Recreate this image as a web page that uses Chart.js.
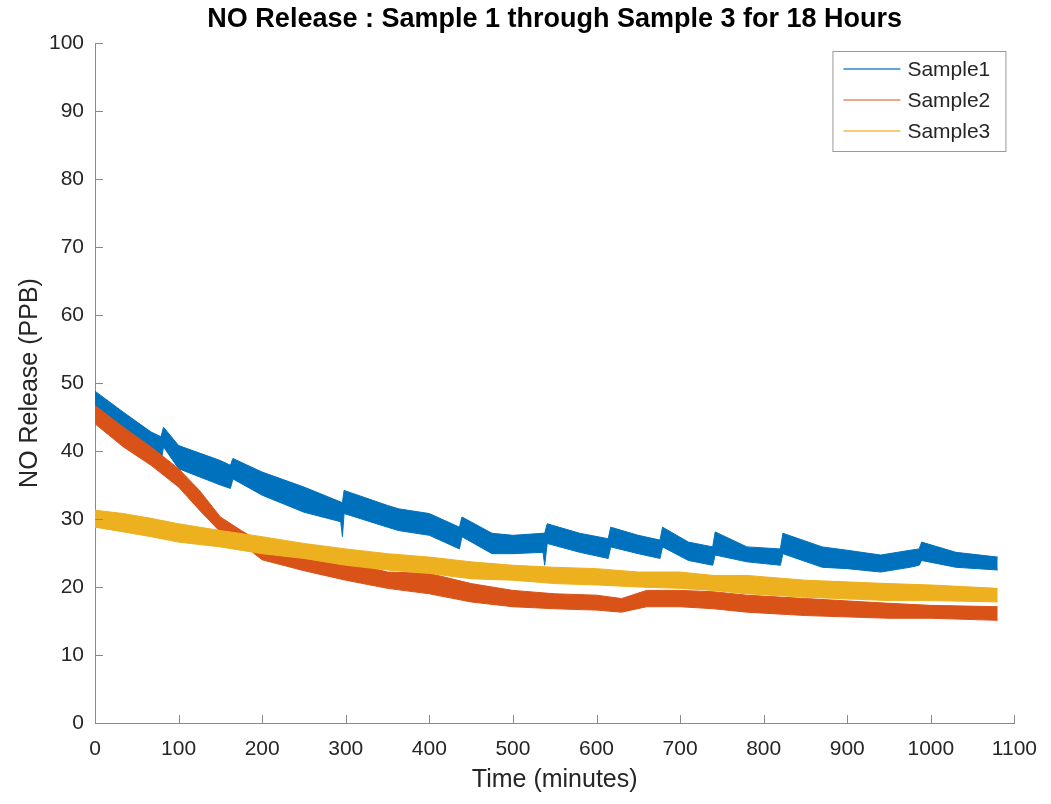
<!DOCTYPE html>
<html>
<head>
<meta charset="utf-8">
<title>NO Release</title>
<script src="https://cdn.jsdelivr.net/npm/chart.js@4.4.1/dist/chart.umd.min.js"></script>
<style>
    html, body { margin: 0; padding: 0; background: #ffffff; }
</style>
</head>
<body>
<canvas class="js-graph" width="1051" height="804"></canvas>
<script>
// values: upper and lower edge of each noisy trace (PPB)
const sample1_x  = [0, 34, 67, 79, 82, 100, 150, 162, 165, 200, 250, 294, 296, 298, 350, 363, 400, 436, 439, 475, 500, 536, 538, 541, 580, 614, 617, 650, 676, 679, 710, 739, 742, 780, 820, 823, 870, 900, 940, 975, 986, 989, 1030, 1080];
const sample1_hi = [48.8, 45.7, 42.8, 42.1, 43.5, 40.8, 38.6, 37.9, 38.9, 36.9, 34.7, 32.5, 32.4, 34.2, 32.0, 31.5, 30.8, 28.8, 30.3, 27.9, 27.6, 27.9, 27.9, 29.3, 27.9, 27.1, 28.8, 27.6, 26.9, 28.8, 26.6, 25.9, 28.1, 25.9, 25.6, 27.9, 25.9, 25.4, 24.7, 25.4, 25.6, 26.6, 25.1, 24.4];
const sample1_lo = [45.5, 42.1, 38.9, 38.4, 40.6, 37.4, 35.0, 34.5, 35.9, 33.5, 31.0, 29.6, 27.4, 30.8, 28.8, 28.3, 27.6, 25.6, 27.4, 24.9, 24.9, 25.1, 23.2, 26.4, 25.1, 24.2, 25.9, 24.9, 24.2, 25.9, 23.9, 23.2, 24.7, 23.7, 23.2, 24.9, 22.9, 22.7, 22.2, 22.9, 23.2, 23.9, 22.9, 22.5];

const sample2_x  = [0, 34, 67, 100, 125, 150, 175, 200, 250, 300, 350, 400, 450, 500, 550, 600, 630, 660, 700, 740, 780, 850, 950, 1000, 1080];
const sample2_hi = [46.7, 43.5, 40.6, 37.4, 34.2, 30.3, 28.3, 26.5, 25.0, 23.7, 22.2, 22.0, 20.5, 19.5, 19.0, 18.8, 18.3, 19.5, 19.5, 19.3, 18.8, 18.3, 17.6, 17.3, 17.1];
const sample2_lo = [44.0, 40.6, 37.9, 34.7, 31.3, 28.1, 26.4, 24.0, 22.4, 21.0, 19.8, 19.0, 17.8, 17.1, 16.8, 16.6, 16.3, 17.1, 17.1, 16.8, 16.3, 15.8, 15.4, 15.4, 15.1];

const sample3_x  = [0, 34, 67, 100, 150, 200, 250, 300, 350, 400, 450, 500, 550, 600, 650, 700, 740, 780, 850, 950, 1000, 1080];
const sample3_hi = [31.3, 30.8, 30.1, 29.3, 28.3, 27.4, 26.4, 25.6, 24.9, 24.4, 23.7, 23.2, 22.9, 22.7, 22.2, 22.2, 21.7, 21.7, 21.0, 20.5, 20.3, 19.8];
const sample3_lo = [28.8, 28.1, 27.4, 26.6, 25.9, 24.9, 24.2, 23.2, 22.5, 22.0, 21.2, 21.0, 20.5, 20.3, 20.0, 19.8, 19.5, 19.0, 18.5, 18.0, 18.0, 17.8];

const series_names = ['Sample1', 'Sample2', 'Sample3'];
const x_ticks = [0, 100, 200, 300, 400, 500, 600, 700, 800, 900, 1000, 1100];
const y_ticks = [0, 10, 20, 30, 40, 50, 60, 70, 80, 90, 100];

const chart_title = 'NO Release : Sample 1 through Sample 3 for 18 Hours';
const x_title = 'Time (minutes)';
const y_title = 'NO Release (PPB)';

{
    const series_colors = ['#0072bd', '#d95319', '#edb120'];
    const legend_colors = ['#2f86cc', '#e88a62', '#f0bc48'];
    const text_color = '#262626';
    const axis_color = '#8a8a8a';
    const font_family = '"Liberation Sans", Arial, Helvetica, sans-serif';

    const to_points = (xs, ys) => xs.map((x, i) => ({ x: x, y: ys[i] }));

    const make_band = (i, xs, hi, lo) => {
        const common = {
            borderColor: series_colors[i],
            backgroundColor: series_colors[i],
            borderWidth: 1,
            pointRadius: 0,
            tension: 0,
            order: 3 - i,
        };
        return [
            { ...common, label: series_names[i], data: to_points(xs, hi), fill: '+1' },
            { ...common, label: series_names[i] + ' low', data: to_points(xs, lo), fill: false },
        ];
    };

    // inward ticks, title and boxed legend like the original figure
    const matlab_look = {
        id: 'matlab_look',
        afterDraw(chart) {
            const { ctx, chartArea, scales } = chart;
            ctx.save();

            ctx.strokeStyle = axis_color;
            ctx.lineWidth = 1;
            ctx.beginPath();
            scales.x.ticks.forEach((t) => {
                const px = Math.round(scales.x.getPixelForValue(t.value)) + 0.5;
                ctx.moveTo(px, chartArea.bottom);
                ctx.lineTo(px, chartArea.bottom - 8);
            });
            scales.y.ticks.forEach((t) => {
                const py = Math.round(scales.y.getPixelForValue(t.value)) + 0.5;
                ctx.moveTo(chartArea.left, py);
                ctx.lineTo(chartArea.left + 8, py);
            });
            ctx.stroke();

            ctx.fillStyle = '#000000';
            ctx.font = 'bold 27px ' + font_family;
            ctx.textAlign = 'center';
            ctx.textBaseline = 'middle';
            ctx.fillText(chart_title, (chartArea.left + chartArea.right) / 2, 20);

            const box_r = chartArea.right - 9;
            const box_l = box_r - 173;
            const box_t = chartArea.top + 8;
            ctx.fillStyle = '#ffffff';
            ctx.fillRect(box_l, box_t, 173, 100);
            ctx.strokeStyle = '#9a9a9a';
            ctx.strokeRect(box_l + 0.5, box_t + 0.5, 173, 100);

            ctx.font = '21px ' + font_family;
            ctx.textAlign = 'left';
            series_names.forEach((name, i) => {
                const ly = box_t + 18 + i * 31;
                ctx.strokeStyle = legend_colors[i];
                ctx.lineWidth = 1.5;
                ctx.beginPath();
                ctx.moveTo(box_l + 11, ly);
                ctx.lineTo(box_l + 68, ly);
                ctx.stroke();
                ctx.fillStyle = text_color;
                ctx.fillText(name, box_l + 75, ly + 1);
            });

            ctx.restore();
        },
    };

    const draw_chart = () => {
        const ctx = document.querySelector('.js-graph').getContext('2d');

        const datasets = [
            ...make_band(0, sample1_x, sample1_hi, sample1_lo),
            ...make_band(1, sample2_x, sample2_hi, sample2_lo),
            ...make_band(2, sample3_x, sample3_hi, sample3_lo),
        ];

        new Chart(ctx, {
            type: 'line',
            data: { datasets: datasets },
            plugins: [matlab_look],
            options: {
                responsive: false,
                animation: false,
                layout: { padding: { left: 0, right: 33, top: 43, bottom: 0 } },
                scales: {
                    x: {
                        type: 'linear',
                        min: 0,
                        max: 1100,
                        afterBuildTicks: (s) => { s.ticks = x_ticks.map((v) => ({ value: v })); },
                        afterFit: (s) => { s.height = 81; },
                        grid: { drawOnChartArea: false, drawTicks: false },
                        border: { color: axis_color, width: 1 },
                        ticks: {
                            color: text_color,
                            font: { family: font_family, size: 21 },
                            padding: 14,
                            maxRotation: 0,
                            autoSkip: false,
                            callback: (v) => String(v),
                        },
                        title: {
                            display: true,
                            text: x_title,
                            color: text_color,
                            font: { family: font_family, size: 25 },
                            padding: { top: 0, bottom: 9 },
                        },
                    },
                    y: {
                        type: 'linear',
                        min: 0,
                        max: 100,
                        afterBuildTicks: (s) => { s.ticks = y_ticks.map((v) => ({ value: v })); },
                        afterFit: (s) => { s.width = 95; },
                        grid: { drawOnChartArea: false, drawTicks: false },
                        border: { color: axis_color, width: 1 },
                        ticks: {
                            color: text_color,
                            font: { family: font_family, size: 21 },
                            padding: 11,
                            autoSkip: false,
                            callback: (v) => String(v),
                        },
                        title: {
                            display: true,
                            text: y_title,
                            color: text_color,
                            font: { family: font_family, size: 25 },
                            padding: { top: 15, bottom: 0 },
                        },
                    },
                },
                plugins: {
                    legend: { display: false },
                    tooltip: { enabled: false },
                },
            },
        });
    };

    draw_chart();
}
</script>
</body>
</html>
